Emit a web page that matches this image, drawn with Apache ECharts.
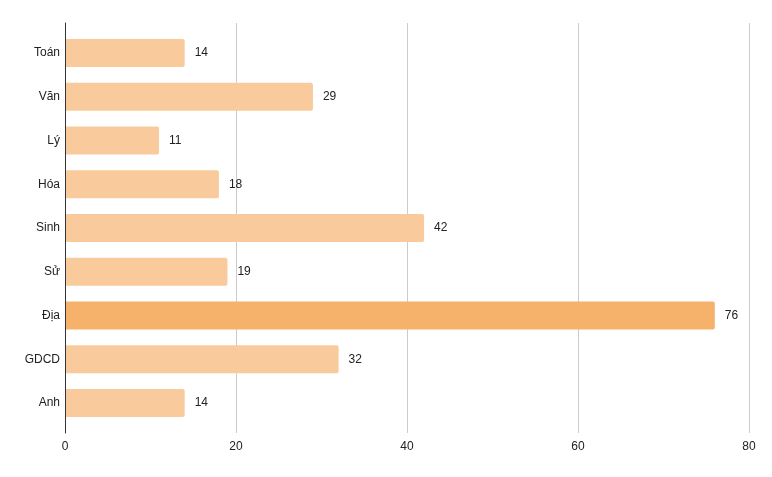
<!DOCTYPE html>
<html><head><meta charset="utf-8">
<script src="https://cdn.jsdelivr.net/npm/echarts@6/dist/echarts.min.js"></script>
<style>html,body{margin:0;padding:0;background:#fff}#c{width:772px;height:477px}</style>
</head><body><div id="c"></div>
<script>
const categories = ["Toán","Văn","Lý","Hóa","Sinh","Sử","Địa","GDCD","Anh"];
const values = [14,29,11,18,42,19,76,32,14];
const highlightIndex = 6;
const xTicks = [0,20,40,60,80];

const FONT = '"Liberation Sans", Arial, sans-serif';
const chart = echarts.init(document.getElementById('c'));
chart.setOption({
  animation:false,
  grid:[
    {left:65,right:23,top:23,bottom:44},
    {left:65,right:23,top:31,bottom:52}
  ],
  xAxis:[
    {gridIndex:0,type:'value',min:xTicks[0],max:xTicks[xTicks.length-1],interval:20,
      axisLine:{show:false},axisTick:{show:false},
      splitLine:{lineStyle:{color:'#cccccc',width:1}},
      axisLabel:{color:'#222',fontFamily:FONT,fontSize:12,margin:8}},
    {gridIndex:1,type:'value',min:xTicks[0],max:xTicks[xTicks.length-1],show:false}
  ],
  yAxis:[
    {gridIndex:0,type:'value',min:0,max:1,z:10,axisLabel:{show:false},splitLine:{show:false},axisTick:{show:false},
      axisLine:{show:true,lineStyle:{color:'#333',width:1}}},
    {gridIndex:1,type:'category',data:categories,inverse:true,
      axisLine:{show:false},axisTick:{show:false},
      axisLabel:{color:'#222',fontFamily:FONT,fontSize:12,margin:5}}
  ],
  series:[{type:'bar',xAxisIndex:1,yAxisIndex:1,barWidth:28,z:2,
    data:values.map((v,i)=>({value:v,itemStyle:{color:i===highlightIndex?'#f6b26b':'#f9cb9c',borderRadius:[0,2,2,0]}})),
    label:{show:true,position:'right',distance:10,color:'#222',fontFamily:FONT,fontSize:12}}]
});
</script></body></html>
